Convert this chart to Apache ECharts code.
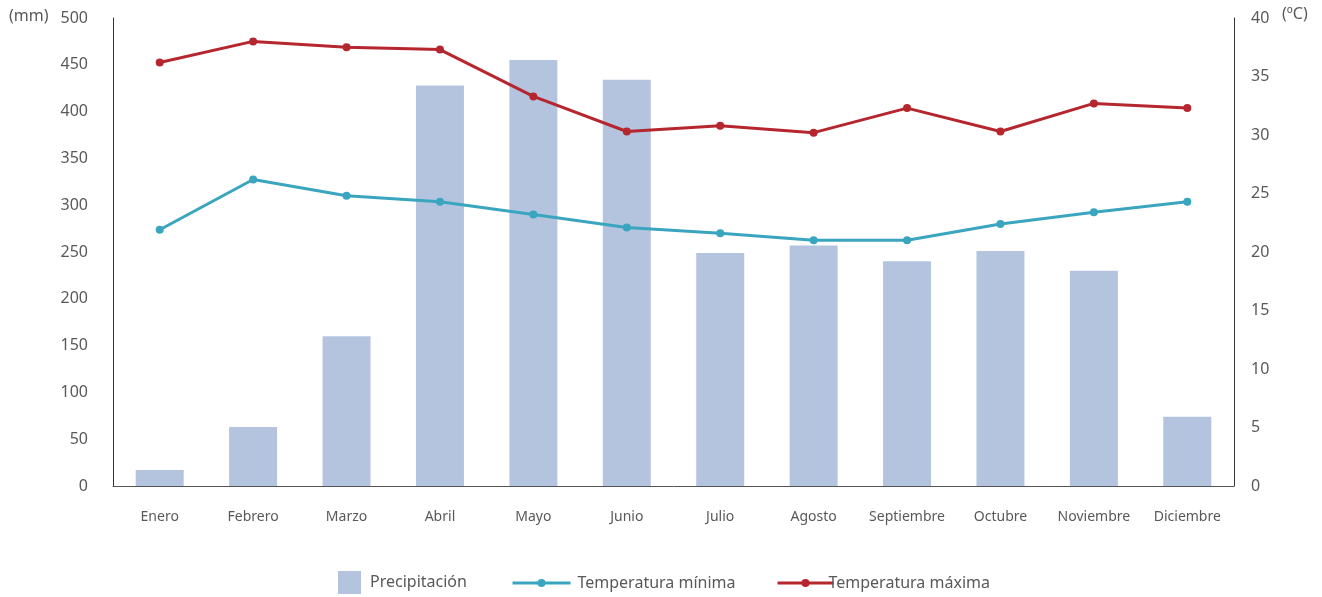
<!DOCTYPE html>
<html>
<head>
<meta charset="utf-8">
<script src="https://cdn.jsdelivr.net/npm/echarts@6/dist/echarts.min.js"></script>
<style>html,body{margin:0;padding:0;background:#fff}#c{width:1322px;height:597px}</style>
</head>
<body>
<div id="c"></div>
<script>
const months = ['Enero','Febrero','Marzo','Abril','Mayo','Junio','Julio','Agosto','Septiembre','Octubre','Noviembre','Diciembre'];
const precipitacion = [17, 63, 160, 428, 455, 434, 249, 257, 240, 251, 230, 74];
const tempMin = [21.9, 26.2, 24.8, 24.3, 23.2, 22.1, 21.6, 21.0, 21.0, 22.4, 23.4, 24.3];
const tempMax = [36.2, 38.0, 37.5, 37.3, 33.3, 30.3, 30.8, 30.2, 32.3, 30.3, 32.7, 32.3];
const leftTicks = {min: 0, max: 500, interval: 50};
const rightTicks = {min: 0, max: 40, interval: 5};

const FONT = '"Noto Sans", sans-serif';
const TXT = '#595959';
const chart = echarts.init(document.getElementById('c'));
chart.setOption({
  animation: false,
  textStyle: {fontFamily: FONT},
  grid: {left: 113, right: 88, top: 18, bottom: 111},
  graphic: [
    {type: 'text', left: 9, top: 8, style: {text: '(mm)', font: '16px ' + FONT, fill: TXT}},
    {type: 'text', left: 1282, top: 6, style: {text: '(ºC)', font: '16px ' + FONT, fill: TXT}}
  ],
  legend: [
    {data: ['Precipitación'], left: 333, top: 566, itemWidth: 23, itemHeight: 23, itemGap: 0,
     textStyle: {fontSize: 16, color: TXT, fontFamily: FONT, padding: [0, 0, 0, 4]}, icon: 'rect'},
    {data: ['Temperatura mínima'], left: 506, top: 570, itemWidth: 58, itemHeight: 10,
     lineStyle: {width: 3},
     textStyle: {fontSize: 16, color: TXT, fontFamily: FONT, padding: [0, 0, 0, 2]}},
    {data: ['Temperatura máxima'], left: 771, top: 570, itemWidth: 56, itemHeight: 10, itemGap: 0,
     lineStyle: {width: 3},
     textStyle: {fontSize: 16, color: TXT, fontFamily: FONT, padding: [0, 0, 0, -10]}}
  ],
  xAxis: {
    type: 'category', data: months,
    axisLine: {show: true, lineStyle: {color: '#555', width: 1}},
    axisTick: {show: false},
    axisLabel: {color: TXT, fontSize: 14, margin: 24, fontFamily: FONT, interval: 0}
  },
  yAxis: [
    {type: 'value', min: leftTicks.min, max: leftTicks.max, interval: leftTicks.interval,
     axisLine: {show: true, lineStyle: {color: '#333'}}, axisTick: {show: false},
     splitLine: {show: false},
     axisLabel: {color: TXT, fontSize: 16, margin: 25, fontFamily: FONT}},
    {type: 'value', min: rightTicks.min, max: rightTicks.max, interval: rightTicks.interval, position: 'right',
     axisLine: {show: true, lineStyle: {color: '#333'}}, axisTick: {show: false},
     splitLine: {show: false},
     axisLabel: {color: TXT, fontSize: 16, margin: 17, fontFamily: FONT}}
  ],
  series: [
    {name: 'Precipitación', type: 'bar', data: precipitacion, barWidth: 48, yAxisIndex: 0,
     itemStyle: {color: '#b4c4de'}},
    {name: 'Temperatura mínima', type: 'line', data: tempMin, yAxisIndex: 1,
     symbol: 'circle', symbolSize: 8, lineStyle: {width: 3, color: '#3aa5bf'},
     itemStyle: {color: '#3aa5bf'}},
    {name: 'Temperatura máxima', type: 'line', data: tempMax, yAxisIndex: 1,
     symbol: 'circle', symbolSize: 8, lineStyle: {width: 3, color: '#b5262f'},
     itemStyle: {color: '#b5262f'}}
  ]
});
</script>
</body>
</html>
